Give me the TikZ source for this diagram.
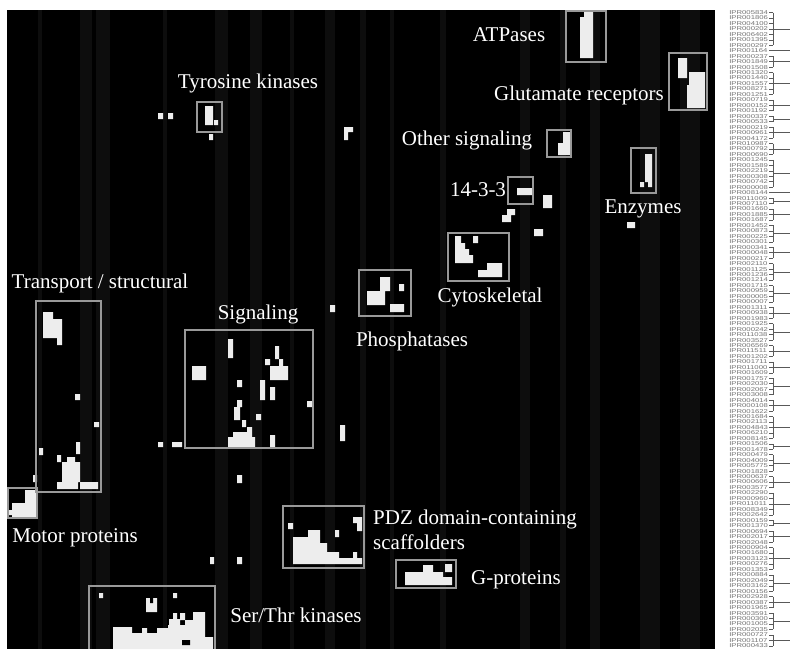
\documentclass[tikz,border=0pt]{standalone}
\usepackage{fontspec}
\setmainfont{Liberation Serif}
\newfontfamily\iprfont{Liberation Sans}

\begin{document}
\begin{tikzpicture}[x=1pt,y=-1pt,
    cluster/.style={draw=white!60!black,line width=1.6pt},
    hit/.style={fill=white!93!black},
    strip/.style={fill=black!95!white},
    lab/.style={text=white,inner sep=0pt,font=\fontsize{21}{25}\selectfont},
    ipr/.style={anchor=west,inner sep=0pt,text=black!55,font=\iprfont\fontsize{5.6}{5.6}\selectfont,xscale=1.38,transform shape},
    tree/.style={draw=black!65,line width=0.6pt}]
\useasboundingbox (0,0) rectangle (792,649);
\fill[white] (0,0) rectangle (792,649);
% heat map panel
\fill[black] (7,10) rectangle (715,649);
\foreach \xa/\xb in {38/42,80/92,96/110,163/167,215/228,250/262,290/294,325/335,360/366,390/394,
                     440/446,520/530,560/566,590/600,640/660,680/700}
  \fill[strip] (\xa,10) rectangle (\xb,649);

% hits
\fill[hit] (584,11) rectangle (593,58) (580,17) rectangle (584,58);
\fill[hit] (678,58) rectangle (687,78)
           (689,72) -- (705,72) -- (705,108) -- (687,108) -- (687,85) -- (689,85) -- cycle;
\fill[hit] (563,132) rectangle (570,155) (558,143) rectangle (563,155);
\fill[hit] (645,154) rectangle (652,182) (640,182) rectangle (644,187) (648,182) rectangle (652,187)
           (627,222) rectangle (635,228);
\fill[hit] (517,188) rectangle (532,195) (543,195) rectangle (552,208) (507,209) rectangle (515,215)
           (502,215) rectangle (511,222) (534,229) rectangle (543,236);
\fill[hit] (455,236) -- (461,236) -- (461,243) -- (465,243) -- (465,249) -- (469,249) -- (469,255)
           -- (473,255) -- (473,263) -- (455,263) -- cycle
           (473,236) rectangle (478,243) (487,263) rectangle (502,270) (478,270) rectangle (502,277);
\fill[hit] (367,291) rectangle (385,305) (380,277) rectangle (390,291) (399,284) rectangle (404,291)
           (390,304) rectangle (404,312) (330,305) rectangle (335,312);
\fill[hit] (205,106) rectangle (213,125) (214,120) rectangle (218,125) (209,134) rectangle (213,140)
           (158,113) rectangle (163,119) (168,113) rectangle (173,119)
           (344,127) rectangle (353,132) (344,132) rectangle (348,140);
\fill[hit] (43,312) -- (53,312) -- (53,319) -- (62,319) -- (62,345) -- (57,345) -- (57,338) -- (43,338) -- cycle
           (75,394) rectangle (80,400) (94,422) rectangle (99,427) (39,448) rectangle (43,455)
           (76,442) rectangle (80,454) (57,455) rectangle (61,462) (67,457) rectangle (75,462)
           (62,462) rectangle (80,482) (57,482) rectangle (78,489) (80,482) rectangle (98,489)
           (33,475) rectangle (37,482);
\fill[hit] (25,490) rectangle (37,517) (12,503) rectangle (25,517) (7,510) rectangle (12,515);
\fill[hit] (228,339) rectangle (233,358) (192,366) rectangle (206,380) (275,346) rectangle (279,359)
           (265,359) rectangle (270,365) (279,359) rectangle (283,366) (270,366) rectangle (288,380)
           (237,380) rectangle (242,387) (260,380) rectangle (265,400) (270,387) rectangle (275,400)
           (237,400) rectangle (242,407) (234,407) rectangle (240,420) (256,414) rectangle (261,420)
           (242,420) rectangle (246,427) (247,427) rectangle (252,435) (233,432) rectangle (252,437)
           (228,437) rectangle (255,448) (270,435) rectangle (275,448) (307,401) rectangle (312,407)
           (158,442) rectangle (163,447) (172,442) rectangle (182,447);
\fill[hit] (340,425) rectangle (345,441) (237,475) rectangle (242,483)
           (210,557) rectangle (214,564) (237,557) rectangle (242,564);
\fill[hit] (288,523) rectangle (293,529) (353,517) rectangle (362,523) (357,523) rectangle (362,531)
           (335,530) rectangle (339,537) (353,552) rectangle (357,558)
           (293,537) -- (308,537) -- (308,530) -- (320,530) -- (320,543) -- (327,543) -- (327,552)
           -- (339,552) -- (339,558) -- (362,558) -- (362,564) -- (293,564) -- cycle;
\fill[hit] (423,565) rectangle (433,572) (445,564) rectangle (452,572)
           (405,572) rectangle (443,585) (443,577) rectangle (452,585);
\fill[hit] (99,593) rectangle (103,598) (173,593) rectangle (177,598) (146,598) rectangle (157,612)
           (173,613) rectangle (177,620) (180,613) rectangle (185,620) (169,619) rectangle (180,625)
           (113,627) -- (132,627) -- (132,633) -- (142,633) -- (142,628) -- (147,628) -- (147,633)
           -- (157,633) -- (157,628) -- (168,628) -- (168,625) -- (185,625) -- (185,620) -- (193,620)
           -- (193,612) -- (205,612) -- (205,637) -- (213,637) -- (213,649) -- (113,649) -- cycle;
\fill[black] (150,598) rectangle (153,603) (182,640) rectangle (190,645);

% cluster boxes
\draw[cluster] (566,11) rectangle (606,62);
\draw[cluster] (669,53) rectangle (707,110);
\draw[cluster] (547,130) rectangle (571,157);
\draw[cluster] (631,148) rectangle (656,193);
\draw[cluster] (508,177) rectangle (533,204);
\draw[cluster] (448,233) rectangle (509,281);
\draw[cluster] (359,270) rectangle (411,316);
\draw[cluster] (197,102) rectangle (222,132);
\draw[cluster] (36,301) rectangle (101,492);
\draw[cluster] (8,488) rectangle (37,518);
\draw[cluster] (185,330) rectangle (313,448);
\draw[cluster] (283,506) rectangle (364,568);
\draw[cluster] (396,560) rectangle (456,588);
\draw[cluster] (89,649) -- (89,586) -- (215,586) -- (215,649);

% labels
\node[lab] (atp) at (509,35) {ATPases};
\node[lab] (glu) at (579,95) {Glutamate receptors};
\node[lab] (oth) at (467,140) {Other signaling};
\node[lab] (fte) at (478,190) {14-3-3};
\node[lab] (enz) at (643,209) {Enzymes};
\node[lab] (tyr) at (248,83) {Tyrosine kinases};
\node[lab] (cyt) at (490,297) {Cytoskeletal};
\node[lab] (tra) at (100,283) {Transport / structural};
\node[lab] (sig) at (258,314) {Signaling};
\node[lab] (pho) at (412,341) {Phosphatases};
\node[lab] (mot) at (75,538) {Motor proteins};
\node[lab,anchor=west,align=left] (pdz) at (373,530) {PDZ domain-containing\\scaffolders};
\node[lab] (gpr) at (516,580) {G-proteins};
\node[lab] (ser) at (296,615) {Ser/Thr kinases};

% dendrogram
\foreach \id [count=\i] in {005834,001806,004100,000202,006402,001395,000297,001164,000237,001849,
    001508,001320,001440,001557,008271,001251,000719,000152,001192,000337,000533,000219,000961,
    004172,010987,000792,000690,001245,001589,002219,000308,000742,000008,008144,011009,007110,
    001660,001885,001687,001452,000873,000225,000301,000341,000048,000217,002110,001125,001236,
    001214,001715,000959,000005,000007,001311,000938,001983,001925,000242,011038,003527,006569,
    011511,001202,001711,011000,001609,001757,002030,002067,003008,004014,000108,001622,001684,
    002113,004843,006210,008145,001506,001478,000479,004009,005775,001828,000637,000606,003577,
    002290,000960,011011,008349,002642,000159,001370,000694,002017,002048,000904,001680,003123,
    000276,001353,000884,002049,003162,000156,002928,000387,001965,003591,000300,001005,002035,
    000727,001107,000433}{
  \pgfmathsetmacro\yy{12.5+5.46*(\i-1)}
  \node[ipr] (r\i) at (729,\yy) {IPR\id};
  \draw[tree] (769,\yy) -- (773,\yy);
}
\foreach \a/\b in {0/6,7/7,8/10,11/15,16/18,19/20,21/23,24/26,27/32,33/33,34/35,36/38,39/42,
    43/45,46/49,50/53,54/56,57/60,61/63,64/66,67/70,71/73,74/78,79/80,81/84,85/87,88/92,93/94,
    95/97,98/102,103/106,107/109,110/113,114/116}{
  \pgfmathsetmacro\ya{12.5+5.46*\a}
  \pgfmathsetmacro\yb{12.5+5.46*\b}
  \pgfmathsetmacro\ym{(\ya+\yb)/2}
  \draw[tree] (773,\ya) -- (773,\yb) (773,\ym) -- (790,\ym);
}
\end{tikzpicture}
\end{document}
